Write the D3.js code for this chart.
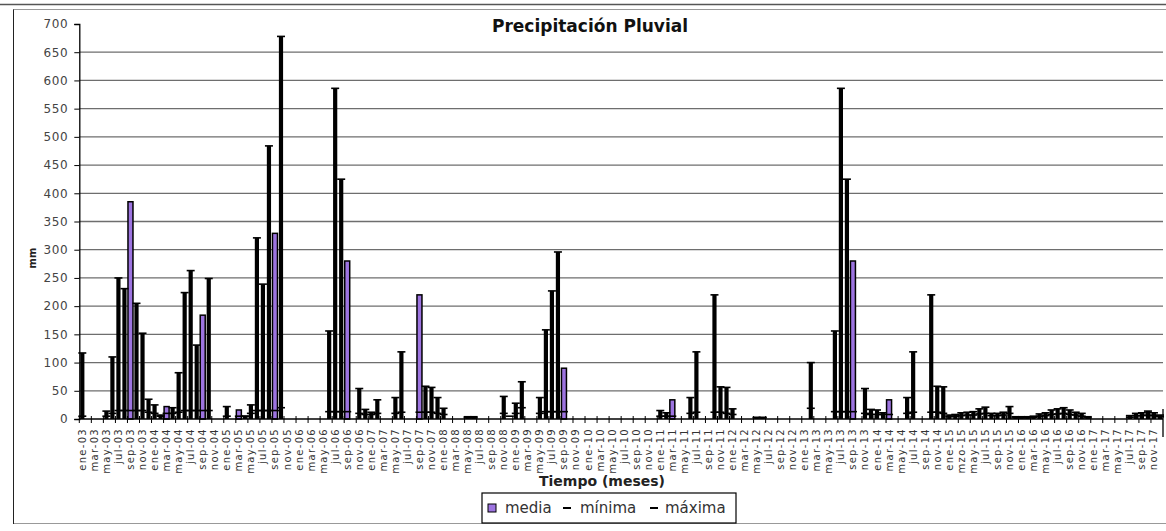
<!DOCTYPE html>
<html><head><meta charset="utf-8">
<script src="https://cdn.jsdelivr.net/npm/d3@7"></script>
<style>
body{margin:0;background:#fff}
text{font-family:"DejaVu Sans",Verdana,sans-serif}
</style>
</head><body>
<svg id="chart" width="1166" height="531"></svg>
<script>
// Monthly categories, January 2003 to December 2017
const monthNames = ["ene","feb","mar","abr","may","jun","jul","ago","sep","oct","nov","dic"];
const years = [2003,2004,2005,2006,2007,2008,2009,2010,2011,2012,2013,2014,2015,2016,2017];
const months = [];
years.forEach(yr => monthNames.forEach(m => months.push(m + "-" + String(yr).slice(2))));
// Axis labels shown every second month
const tickLabels = months.filter((d, i) => i % 2 === 0).map(d => d === "mar-15" ? "mzo-15" : d);
const yTicks = [0,50,100,150,200,250,300,350,400,450,500,550,600,650,700];

// máxima per month (mm)
const maxima = [
  117,0,0,0,14,110,250,231,0,205,152,35,
  25,7,0,20,82,224,263,131,0,249,0,0,
  22,0,0,5,25,321,239,484,0,678,0,0,
  0,0,0,0,0,156,586,425,0,0,54,17,
  12,34,0,0,38,119,0,0,0,58,56,38,
  19,0,0,0,4,4,0,0,0,0,40,0,
  28,66,0,0,38,158,227,296,0,0,0,0,
  0,0,0,0,0,0,0,0,0,0,0,0,
  15,11,0,0,0,38,119,0,0,220,57,56,
  18,0,0,0,3,3,0,0,0,0,0,0,
  0,100,0,0,0,156,586,425,0,0,54,17,
  16,11,0,0,0,38,119,0,0,220,58,57,
  7,8,11,12,13,18,21,10,10,12,22,4,
  4,4,5,9,11,16,18,20,16,12,10,4,
  0,0,0,0,0,0,6,10,11,14,11,7
];
// mínima per month (mm)
const minima = [
  5,0,0,0,5,10,15,15,15,15,15,12,
  10,5,10,10,12,15,15,15,15,15,0,0,
  5,0,5,5,10,15,15,15,15,20,0,0,
  0,0,0,0,0,13,13,13,13,0,10,8,
  8,10,0,0,10,12,0,0,12,12,12,10,
  8,0,0,0,2,2,0,0,0,0,10,5,
  10,20,0,0,10,13,13,13,13,0,0,0,
  0,0,0,0,0,0,0,0,0,0,0,0,
  5,5,5,0,0,10,12,0,0,12,12,10,
  8,0,0,0,2,2,0,0,0,0,0,0,
  0,19,0,0,0,13,13,13,13,0,10,8,
  8,8,8,0,0,10,12,0,0,12,12,10,
  4,5,6,7,7,9,10,6,6,7,10,2,
  2,2,3,5,6,8,9,10,8,7,5,2,
  0,0,0,0,0,0,3,6,6,7,6,4
];
// media per month (mm); only months where it is reported
const media = months.map(() => null);
const mediaValues = {"sep-03":385,"mar-04":22,"sep-04":184,"mar-05":16,"sep-05":329,"sep-06":280,
  "sep-07":220,"sep-09":90,"mar-11":34,"sep-13":280,"mar-14":34};
Object.keys(mediaValues).forEach(k => { media[months.indexOf(k)] = mediaValues[k]; });

const svg = d3.select("#chart");
const plotLeft = 79.3, plotRight = 1163, plotTop = 24, plotBottom = 419;
const purple = "#9d74e0";

// chart frame
svg.append("line").attr("x1",0).attr("x2",1166).attr("y1",4.5).attr("y2",4.5).attr("stroke","#555").attr("stroke-width",1.5);
svg.append("rect").attr("x",13.5).attr("y",9.5).attr("width",1160).attr("height",514)
  .attr("fill","none").attr("stroke","#999").attr("stroke-width",1);
svg.append("line").attr("x1",13.5).attr("x2",13.5).attr("y1",9.5).attr("y2",524).attr("stroke","#222");

const x = d3.scaleBand().domain(months).range([plotLeft, plotRight]).paddingInner(0).paddingOuter(0);
const y = d3.scaleLinear().domain([0,700]).range([plotBottom, plotTop]);
const cx = d => x(d) + x.bandwidth() / 2;

// horizontal gridlines
svg.append("g").selectAll("line").data(yTicks.filter(v => v > 0 && v < 700)).join("line")
  .attr("x1", plotLeft).attr("x2", plotRight).attr("y1", d => y(d)).attr("y2", d => y(d))
  .attr("stroke","#6e6e6e").attr("stroke-width",1.3);

// y axis
const yAxis = svg.append("g").attr("transform",`translate(${plotLeft},0)`)
  .call(d3.axisLeft(y).tickValues(yTicks).tickSize(5).tickPadding(6));
yAxis.select(".domain").attr("stroke","#000").attr("stroke-width",1.3);
yAxis.selectAll(".tick line").attr("stroke","#000");
yAxis.selectAll("text").attr("font-size",12).attr("fill","#444").attr("letter-spacing",0.6)
  .style("font-family","DejaVu Sans, Verdana, sans-serif");

// media columns
svg.append("g").selectAll("rect").data(months.map((m,i)=>({m, v: media[i]})).filter(d => d.v !== null)).join("rect")
  .attr("x", d => cx(d.m) - 2.5).attr("width", 5)
  .attr("y", d => y(d.v)).attr("height", d => y(0) - y(d.v))
  .attr("fill", purple).attr("stroke","#000").attr("stroke-width",1.5);

// high-low lines up to máxima
svg.append("g").selectAll("line").data(months.map((m,i)=>({m, v: maxima[i]})).filter(d => d.v > 0)).join("line")
  .attr("x1", d => cx(d.m)).attr("x2", d => cx(d.m))
  .attr("y1", y(0)).attr("y2", d => y(d.v))
  .attr("stroke","#000").attr("stroke-width",4.2);

// mínima and máxima markers
const markers = svg.append("g");
markers.selectAll("line.mn").data(months.map((m,i)=>({m, v: minima[i]})).filter(d => d.v > 0)).join("line")
  .attr("class","mn").attr("x1", d => cx(d.m) - 4).attr("x2", d => cx(d.m) + 4)
  .attr("y1", d => y(d.v)).attr("y2", d => y(d.v)).attr("stroke","#000").attr("stroke-width",1.6);
markers.selectAll("line.mx").data(months.map((m,i)=>({m, v: maxima[i]})).filter(d => d.v > 0)).join("line")
  .attr("class","mx").attr("x1", d => cx(d.m) - 4).attr("x2", d => cx(d.m) + 4)
  .attr("y1", d => y(d.v)).attr("y2", d => y(d.v)).attr("stroke","#000").attr("stroke-width",1.6);

// x axis line with ticks every two months
svg.append("line").attr("x1", plotLeft).attr("x2", plotRight).attr("y1", plotBottom).attr("y2", plotBottom)
  .attr("stroke","#000").attr("stroke-width",1.3);
svg.append("line").attr("x1", plotRight).attr("x2", plotRight).attr("y1", plotBottom - 10).attr("y2", plotBottom + 18)
  .attr("stroke","#000").attr("stroke-width",1.3);
svg.append("g").selectAll("line").data(months.filter((d,i) => i % 2 === 0)).join("line")
  .attr("x1", d => x(d)).attr("x2", d => x(d)).attr("y1", plotBottom - 3).attr("y2", plotBottom + 4)
  .attr("stroke","#000");

// rotated month labels
svg.append("g").selectAll("text").data(tickLabels).join("text")
  .attr("transform", (d,i) => `translate(${cx(months[i*2]) + 3.5},${plotBottom + 9}) rotate(-90)`)
  .attr("text-anchor","end").attr("font-size",10).attr("letter-spacing",1.3).attr("fill","#333").text(d => d);

// titles
svg.append("text").attr("x",590).attr("y",32).attr("text-anchor","middle")
  .attr("font-size",17).attr("font-weight","bold").attr("fill","#111").text("Precipitación Pluvial");
svg.append("text").attr("x",602).attr("y",486).attr("text-anchor","middle")
  .attr("font-size",14).attr("font-weight","bold").attr("fill","#222").text("Tiempo (meses)");
svg.append("text").attr("transform","translate(36,258) rotate(-90)").attr("text-anchor","middle")
  .attr("font-size",10).attr("font-weight","bold").attr("fill","#222").text("mm");

// legend
const lg = svg.append("g");
lg.append("rect").attr("x",482).attr("y",493).attr("width",254).attr("height",30)
  .attr("fill","#fff").attr("stroke","#000").attr("stroke-width",1.2);
lg.append("rect").attr("x",488).attr("y",504).attr("width",8).attr("height",8)
  .attr("fill", purple).attr("stroke","#000");
lg.append("text").attr("x",505).attr("y",513).attr("font-size",15).attr("fill","#333").text("media");
lg.append("line").attr("x1",563).attr("x2",571).attr("y1",508).attr("y2",508).attr("stroke","#000").attr("stroke-width",2);
lg.append("text").attr("x",580).attr("y",513).attr("font-size",15).attr("fill","#333").text("mínima");
lg.append("line").attr("x1",650).attr("x2",658).attr("y1",508).attr("y2",508).attr("stroke","#000").attr("stroke-width",2);
lg.append("text").attr("x",665).attr("y",513).attr("font-size",15).attr("fill","#333").text("máxima");
</script>
</body></html>
